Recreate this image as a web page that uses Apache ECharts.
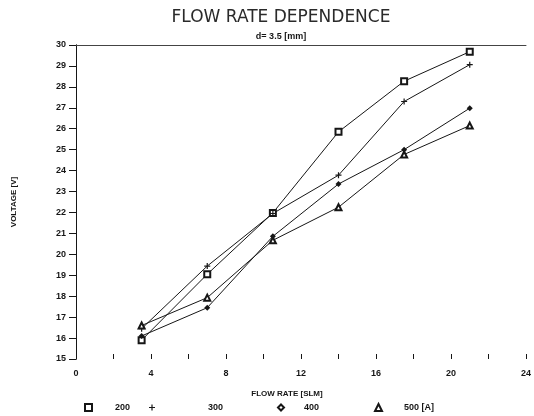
<!DOCTYPE html>
<html>
<head>
<meta charset="utf-8">
<script src="https://cdn.jsdelivr.net/npm/echarts@6/dist/echarts.min.js"></script>
<style>
  html, body { margin: 0; padding: 0; background: #fff; }
  #chart { width: 534px; height: 416px; }
</style>
</head>
<body>
<div id="chart"></div>
<script>
// flow rate [SLM] on x, voltage [V] per arc current
var flowRate = [3.5, 7, 10.5, 14, 17.5, 21]
var v200 = [15.9, 19.05, 21.98, 25.85, 28.27, 29.68]
var v300 = [16.45, 19.44, 21.95, 23.78, 27.3, 29.06]
var v400 = [16.1, 17.45, 20.86, 23.36, 25.0, 26.98]
var v500 = [16.6, 17.93, 20.67, 22.25, 24.77, 26.15]
var seriesNames = ['200', '300', '400', '500 [A]']

var plusPath = 'path://M4,0H6V4H10V6H6V10H4V6H0V4H4Z'
var ink = '#161616'

function pairs(ys) {
  return flowRate.map(function (x, i) { return [x, ys[i]] })
}

function makeLegend(name, icon, left, padLeft, size) {
  return {
    left: left,
    top: 403,
    padding: 0,
    itemWidth: size,
    itemHeight: size,
    selectedMode: false,
    data: [{ name: name, icon: icon }],
    itemStyle: { color: ink, borderWidth: 1 },
    lineStyle: { opacity: 0 },
    textStyle: {
      color: ink,
      fontFamily: 'Liberation Sans',
      fontWeight: 'bold',
      fontSize: 9,
      padding: [0, 0, 0, padLeft]
    }
  }
}

var chart = echarts.init(document.getElementById('chart'))

var labelStyle = {
  color: ink,
  fontFamily: 'Liberation Sans',
  fontWeight: 'bold',
  fontSize: 9
}

chart.setOption({
  animation: false,
  backgroundColor: '#fff',
  title: [{
    text: 'FLOW RATE DEPENDENCE',
    left: 276,
    top: 4,
    textAlign: 'center',
    textStyle: { color: '#2a2a2a', fontFamily: 'DejaVu Sans', fontWeight: 'normal', fontSize: 17 }
  }, {
    text: 'd= 3.5 [mm]',
    left: 276,
    top: 27,
    textAlign: 'center',
    textStyle: { color: ink, fontFamily: 'Liberation Sans', fontWeight: 'bold', fontSize: 9 }
  }],
  legend: [
    makeLegend('200', 'emptyRect', 84, 18, 7),
    makeLegend('300', plusPath, 149, 48, 6),
    makeLegend('400', 'emptyDiamond', 277, 15, 6),
    makeLegend('500 [A]', 'emptyTriangle', 374, 17, 7)
  ],
  grid: { left: 76, right: 7, top: 45, bottom: 57 },
  xAxis: [{
    type: 'value',
    min: 0,
    max: 24,
    interval: 4,
    name: 'FLOW RATE [SLM]',
    nameLocation: 'middle',
    nameGap: 31,
    nameTextStyle: Object.assign({ padding: [0, 28, 0, 0] }, labelStyle, { fontSize: 8 }),
    axisLine: { show: false },
    axisTick: { show: true, inside: true, length: 5, lineStyle: { color: ink } },
    minorTick: { show: true, splitNumber: 2, length: 5, lineStyle: { color: ink } },
    axisLabel: Object.assign({ margin: 10 }, labelStyle),
    splitLine: { show: false }
  }, {
    type: 'value',
    position: 'top',
    min: 0,
    max: 24,
    axisLine: { show: true, lineStyle: { color: '#444', width: 1 } },
    axisTick: { show: false },
    axisLabel: { show: false },
    splitLine: { show: false }
  }],
  yAxis: [{
    type: 'value',
    min: 15,
    max: 30,
    interval: 1,
    name: 'VOLTAGE [V]',
    nameLocation: 'middle',
    nameGap: 58,
    nameTextStyle: Object.assign({}, labelStyle, { fontSize: 8 }),
    axisLine: { show: true, lineStyle: { color: ink, width: 1 } },
    axisTick: { show: true, length: 7, lineStyle: { color: ink } },
    axisLabel: Object.assign({ margin: 10 }, labelStyle),
    splitLine: { show: false }
  }, {
    type: 'value',
    position: 'right',
    min: 15,
    max: 30,
    axisLine: { show: true, lineStyle: { color: ink, width: 1 } },
    axisTick: { show: false },
    axisLabel: { show: false },
    splitLine: { show: false }
  }],
  series: [{
    name: seriesNames[0],
    type: 'line',
    data: pairs(v200),
    symbol: 'emptyRect',
    symbolSize: 6,
    itemStyle: { color: ink, borderWidth: 1.3 },
    lineStyle: { color: ink, width: 1 }
  }, {
    name: seriesNames[1],
    type: 'line',
    data: pairs(v300),
    symbol: plusPath,
    symbolSize: 6,
    itemStyle: { color: ink },
    lineStyle: { color: ink, width: 1 }
  }, {
    name: seriesNames[2],
    type: 'line',
    data: pairs(v400),
    symbol: 'diamond',
    symbolSize: 6,
    itemStyle: { color: ink },
    lineStyle: { color: ink, width: 1 }
  }, {
    name: seriesNames[3],
    type: 'line',
    data: pairs(v500),
    symbol: 'emptyTriangle',
    symbolSize: 6,
    itemStyle: { color: ink, borderWidth: 1.3 },
    lineStyle: { color: ink, width: 1 }
  }]
})
</script>
</body>
</html>
